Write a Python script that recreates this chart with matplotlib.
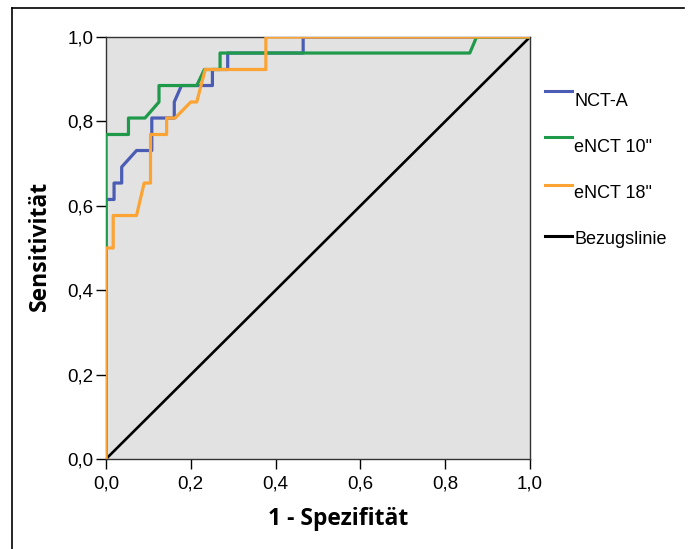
import matplotlib
matplotlib.use("Agg")
import matplotlib.pyplot as plt
from matplotlib.lines import Line2D

# ROC curves (1 - specificity, sensitivity)
nct_a_x = [0, 0, 0.019, 0.019, 0.037, 0.037, 0.072, 0.108, 0.108, 0.161, 0.161, 0.178, 0.251, 0.251, 0.287, 0.287, 0.465, 0.465, 1.0]
nct_a_y = [0, 0.615, 0.615, 0.654, 0.654, 0.692, 0.731, 0.731, 0.808, 0.808, 0.846, 0.885, 0.885, 0.923, 0.923, 0.962, 0.962, 1.0, 1.0]

enct10_x = [0, 0, 0.053, 0.053, 0.092, 0.125, 0.125, 0.214, 0.232, 0.269, 0.269, 0.858, 0.874, 1.0]
enct10_y = [0, 0.769, 0.769, 0.808, 0.808, 0.846, 0.885, 0.885, 0.923, 0.923, 0.962, 0.962, 1.0, 1.0]

enct18_x = [0, 0, 0.017, 0.017, 0.072, 0.090, 0.105, 0.105, 0.143, 0.143, 0.163, 0.200, 0.214, 0.234, 0.377, 0.377, 1.0]
enct18_y = [0, 0.5, 0.5, 0.577, 0.577, 0.654, 0.654, 0.769, 0.769, 0.808, 0.808, 0.846, 0.846, 0.923, 0.923, 1.0, 1.0]

ref_x = [0, 1]
ref_y = [0, 1]

labels = ["NCT-A", "eNCT 10\"", "eNCT 18\"", "Bezugslinie"]
colors = ["#4a5cb4", "#1e9a4a", "#fba333", "#000000"]
tick_vals = [0.0, 0.2, 0.4, 0.6, 0.8, 1.0]
tick_labels = ["0,0", "0,2", "0,4", "0,6", "0,8", "1,0"]

fig = plt.figure(figsize=(6.91, 5.49), dpi=100)
ax = fig.add_axes([106/691, 1 - 459/549, 424/691, 422/549])
ax.set_facecolor("#e2e2e2")

ax.plot(ref_x, ref_y, color=colors[3], lw=1.9, zorder=3)
ax.plot(nct_a_x, nct_a_y, color=colors[0], lw=2.3, zorder=4)
ax.plot(enct10_x, enct10_y, color=colors[1], lw=2.3, zorder=5)
ax.plot(enct18_x, enct18_y, color=colors[2], lw=2.3, zorder=6)

ax.set_xlim(0, 1)
ax.set_ylim(0, 1)
ax.set_xticks(tick_vals)
ax.set_xticklabels(tick_labels)
ax.set_yticks(tick_vals)
ax.set_yticklabels(tick_labels)
ax.tick_params(axis="x", direction="out", length=7, width=1, labelsize=13.5, pad=5)
ax.tick_params(axis="y", direction="out", length=7, width=1, labelsize=13.5, pad=2)
for lab in ax.get_xticklabels() + ax.get_yticklabels():
    lab.set_family("Liberation Sans")
for s in ax.spines.values():
    s.set_linewidth(1.0)
    s.set_color("#333333")

fig.text(338/691, 1 - 519/549, "1 - Spezifität", ha="center", va="center",
         fontsize=16.5, fontweight="bold", family="Open Sans")
fig.text(40/691, 1 - 246/549, "Sensitivität", ha="center", va="center",
         rotation=90, fontsize=16.5, fontweight="bold", family="Open Sans")

# legend drawn manually to mirror the SPSS layout
leg_line_y = [91, 137, 185, 236]
leg_text_y = [102, 147, 194, 240]
for lab, col, ly, ty in zip(labels, colors, leg_line_y, leg_text_y):
    fig.add_artist(Line2D([545/691, 572/691], [1 - ly/549, 1 - ly/549],
                          color=col, lw=2.2, transform=fig.transFigure))
    fig.text(574/691, 1 - ty/549, lab, ha="left", va="center", fontsize=13,
             family="Liberation Sans")

# outer frame (top and left)
fig.add_artist(Line2D([12/691, 12/691], [0, 1 - 8/549], color="black", lw=1.2,
                      transform=fig.transFigure))
fig.add_artist(Line2D([12/691, 684/691], [1 - 8/549, 1 - 8/549], color="black", lw=1.2,
                      transform=fig.transFigure))

fig.savefig("out.png", dpi=100)
